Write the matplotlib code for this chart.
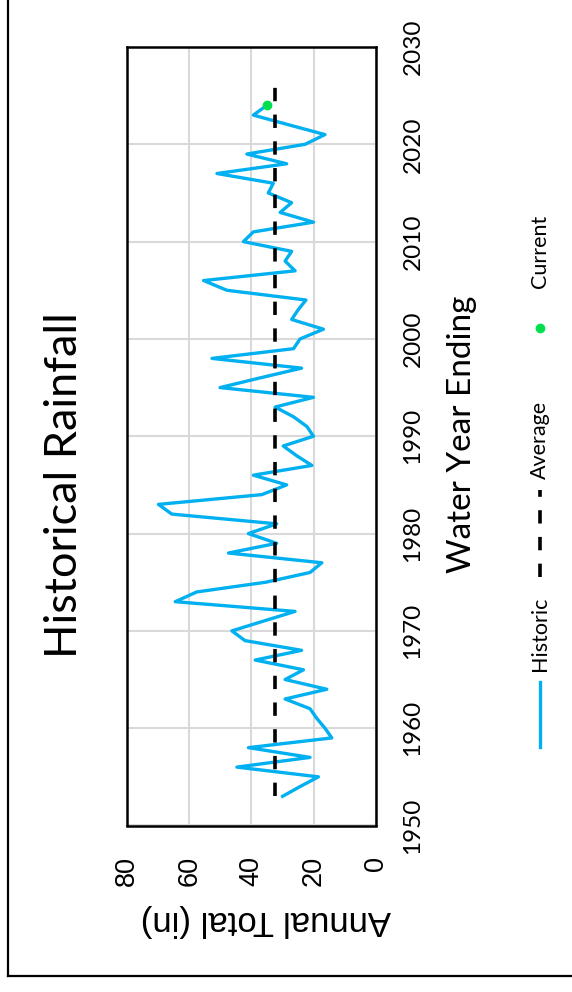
import matplotlib
matplotlib.use("Agg")
import matplotlib.pyplot as plt
from matplotlib.lines import Line2D

# ---- data ----
years = list(range(1953, 2025))
rainfall = [30.0, 24.4, 18.5, 44.7, 21.2, 41.0, 14.2, 16.4, 19.0, 21.2,
            29.2, 15.8, 29.2, 23.3, 38.8, 23.9, 42.1, 46.3, 36.2, 26.0,
            64.5, 57.6, 35.4, 21.2, 17.4, 47.4, 31.9, 41.0, 31.9, 65.6,
            69.9, 36.7, 28.7, 39.4, 20.6, 25.5, 29.8, 20.1, 22.2, 26.5,
            32.4, 20.1, 50.1, 37.2, 23.9, 52.7, 26.5, 24.4, 16.9, 27.1,
            25.0, 22.5, 47.9, 55.4, 26.0, 29.2, 27.1, 42.6, 39.4, 20.1,
            30.8, 27.1, 34.6, 33.0, 51.1, 28.7, 41.5, 22.8, 16.4, 28.0,
            39.4, 35.1]
average_years = [1953, 2026]
average_value = 32.4
current_years = [2024]
current_values = [35.1]
value_ticks = [0, 20, 40, 60, 80]
year_ticks = [1950, 1960, 1970, 1980, 1990, 2000, 2010, 2020, 2030]

W, H = 572, 992
BLUE = '#00B0F0'
GREEN = '#00E04F'
CAL = ['Lato', 'DejaVu Sans']
ARIAL = ['Liberation Sans', 'DejaVu Sans']

def fx(px):
    return px / W

def fy(py):
    return 1 - py / H

fig = plt.figure(figsize=(W / 100, H / 100), dpi=100)
fig.patch.set_facecolor('white')

# chart drawn in the rotated frame: values run right-to-left, years bottom-to-top
ax_l, ax_r, ax_t, ax_b = 127, 376, 47, 825.5
ax = fig.add_axes([fx(ax_l), fy(ax_b), (ax_r - ax_l) / W, (ax_b - ax_t) / H])
ax.plot(rainfall, years, color=BLUE, lw=2.4, solid_joinstyle='round', zorder=3)
ax.plot([average_value] * len(average_years), average_years, color='black',
        lw=2.6, dashes=(3.7, 3.7), zorder=4)
ax.plot(current_values, current_years, 'o', color=GREEN, ms=6, mec=GREEN, zorder=5)

ax.set_xlim(80, 0)
ax.set_ylim(1950, 2030)
ax.set_xticks(value_ticks)
ax.set_yticks(year_ticks)
ax.grid(True, color='#d9d9d9', lw=1.5)
ax.set_axisbelow(True)
for s in ax.spines.values():
    s.set_linewidth(1.8)
    s.set_color('black')
ax.yaxis.tick_right()
ax.tick_params(length=0)
ax.tick_params(axis='y', pad=19)
ax.tick_params(axis='x', pad=22)
for lab in ax.get_yticklabels():
    lab.set_rotation(90)
    lab.set_va('center')
    lab.set_fontfamily(CAL)
    lab.set_fontsize(17.5)
for lab in ax.get_xticklabels():
    lab.set_rotation(90)
    lab.set_ha('center')
    lab.set_fontfamily(ARIAL)
    lab.set_fontsize(19.5)

# texts
fig.text(fx(65), fy(485), 'Historical Rainfall', rotation=90, ha='center', va='center',
         fontsize=32.5, family=CAL)
fig.text(fx(462), fy(434), 'Water Year Ending', rotation=90, ha='center', va='center',
         fontsize=24, family=CAL)
fig.text(fx(266), fy(920), 'Annual Total (in)', rotation=180, ha='center', va='center',
         fontsize=25, family=ARIAL)

# legend (rotated)
lx = fx(540)
fig.add_artist(Line2D([lx, lx], [fy(747), fy(682)], color=BLUE, lw=2.4,
                      transform=fig.transFigure))
fig.text(lx, fy(634), 'Historic', rotation=90, ha='center', va='center',
         fontsize=15.5, family=CAL)
fig.add_artist(Line2D([lx, lx], [fy(577), fy(490)], color='black', lw=2.6,
                      dashes=(3.7, 3.7), transform=fig.transFigure))
fig.text(lx, fy(440), 'Average', rotation=90, ha='center', va='center',
         fontsize=15.5, family=CAL)
fig.add_artist(Line2D([lx], [fy(328)], marker='o', color=GREEN, ms=6, mec=GREEN,
                      transform=fig.transFigure))
fig.text(lx, fy(251), 'Current', rotation=90, ha='center', va='center',
         fontsize=15.5, family=CAL)

# outer frame (left and bottom edges visible)
fig.add_artist(Line2D([fx(8), fx(8)], [fy(976), 1.0], color='black', lw=1.6,
                      transform=fig.transFigure))
fig.add_artist(Line2D([fx(8), 1.0], [fy(976), fy(976)], color='black', lw=1.6,
                      transform=fig.transFigure))

fig.savefig('out.png', dpi=100)
